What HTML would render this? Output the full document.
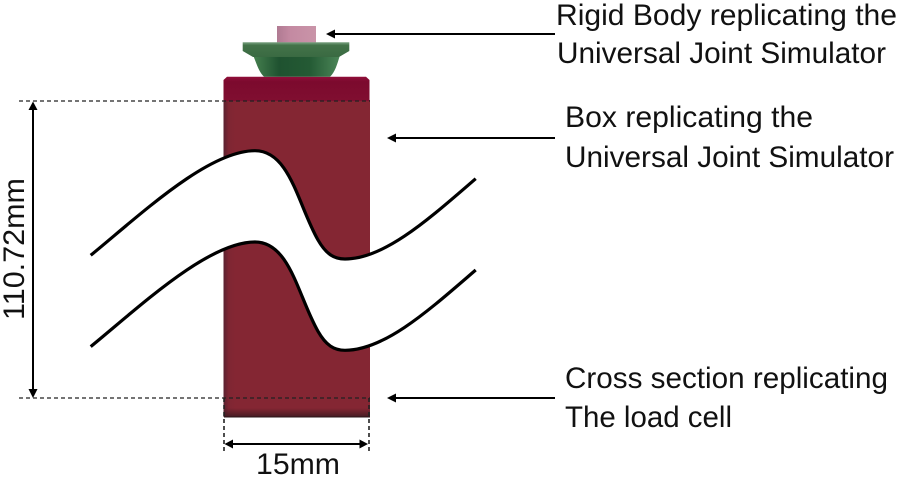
<!DOCTYPE html>
<html>
<head>
<meta charset="utf-8">
<style>
html,body{margin:0;padding:0;background:#fff;width:899px;height:478px;overflow:hidden}
svg{display:block}
text{font-family:"Liberation Sans",sans-serif;font-size:30px;fill:#111}
</style>
</head>
<body>
<svg width="899" height="478" viewBox="0 0 899 478" xmlns="http://www.w3.org/2000/svg">
<defs>
<linearGradient id="boxH" x1="0" x2="1" y1="0" y2="0">
<stop offset="0" stop-color="#5a2230"/>
<stop offset="0.035" stop-color="#7e2633"/>
<stop offset="0.08" stop-color="#842633"/>
<stop offset="1" stop-color="#842633"/>
</linearGradient>
<linearGradient id="boxV" x1="0" x2="0" y1="0" y2="1">
<stop offset="0" stop-color="#3a1a20" stop-opacity="0"/>
<stop offset="1" stop-color="#3a1a20" stop-opacity="0.85"/>
</linearGradient>
<linearGradient id="cap" x1="0" x2="0" y1="0" y2="1">
<stop offset="0" stop-color="#920f3a"/>
<stop offset="0.2" stop-color="#7c0a2e"/>
<stop offset="1" stop-color="#800e30"/>
</linearGradient>
<linearGradient id="pink" x1="0" x2="1" y1="0" y2="0">
<stop offset="0" stop-color="#b07a92"/>
<stop offset="0.35" stop-color="#c48aa2"/>
<stop offset="1" stop-color="#c994a8"/>
</linearGradient>
<linearGradient id="rim" x1="0" x2="0" y1="0" y2="1">
<stop offset="0" stop-color="#7aa382"/>
<stop offset="0.2" stop-color="#437349"/>
<stop offset="1" stop-color="#3a6a42"/>
</linearGradient>
<linearGradient id="bowl" x1="0" x2="1" y1="0" y2="0">
<stop offset="0" stop-color="#46804f"/>
<stop offset="0.3" stop-color="#1f5230"/>
<stop offset="0.65" stop-color="#245a34"/>
<stop offset="1" stop-color="#4c8658"/>
</linearGradient>
</defs>

<!-- box -->
<rect x="223.5" y="100" width="146.5" height="317" fill="url(#boxH)"/>
<rect x="223.500" y="408" width="146.500" height="9" fill="url(#boxV)"/>
<path d="M223.500 101 V80 L227 76.700 H366 L369.500 80 V101 Z" fill="url(#cap)"/>

<!-- top parts -->
<rect x="277" y="26" width="39" height="16.500" fill="url(#pink)"/>
<path d="M253 55 C257 65 259 72 264 76.700 H330 C335 72 337 65 340 55 Z" fill="url(#bowl)"/>
<path d="M242.700 42.300 H349.300 V51 L345 53.500 L339 57 H253 L247 53.500 L242.700 51 Z" fill="url(#rim)"/>

<!-- dashed lines -->
<g fill="none" stroke="#222" stroke-width="1.2" stroke-dasharray="4 3">
<line x1="19" y1="101" x2="370" y2="101"/>
<line x1="19" y1="398" x2="370" y2="398"/>
<line x1="224" y1="398" x2="224" y2="454" stroke-width="1.6"/>
<line x1="369" y1="398" x2="369" y2="454" stroke-width="1.6"/>
</g>
<line x1="224" y1="417" x2="370" y2="417" stroke="#2a1418" stroke-width="1"/>

<!-- white ribbon break -->
<path d="M90.700 255.300 C140 215 208 150.700 255 150.700 C290 150.700 298 205 318 240 C326 254 334 259 345 259 C385 259 430 218 475.700 178.700 V270 C430 309.300 385 350.300 345 350.300 C334 350.300 326 345.300 318 331.300 C298 296.300 290 242 255 242 C208 242 140 306.300 90.700 346.600 Z" fill="#fff"/>
<g fill="none" stroke="#000" stroke-width="3.200">
<path d="M90.700 255.300 C140 215 208 150.700 255 150.700 C290 150.700 298 205 318 240 C326 254 334 259 345 259 C385 259 430 218 475.700 178.700"/>
<path d="M90.700 346.600 C140 306.300 208 242 255 242 C290 242 298 296.300 318 331.300 C326 345.300 334 350.300 345 350.300 C385 350.300 430 309.300 475.700 270"/>
</g>

<!-- arrows -->
<g stroke="#000" stroke-width="2" fill="none">
<line x1="332" y1="34" x2="555" y2="34"/>
<line x1="396" y1="138" x2="555" y2="138"/>
<line x1="396" y1="398" x2="555" y2="398"/>
<line x1="33" y1="110" x2="33" y2="390"/>
<line x1="232" y1="444" x2="361" y2="444"/>
</g>
<g fill="#000">
<path d="M326 34 L335 29.500 V38.500 Z"/>
<path d="M387 138 L396 133.500 V142.500 Z"/>
<path d="M387 398 L396 393.500 V402.500 Z"/>
<path d="M33 101.500 L28.500 110 H37.500 Z"/>
<path d="M33 398 L28.500 389 H37.500 Z"/>
<path d="M224.500 444 L233 439.500 V448.500 Z"/>
<path d="M368 444 L359.500 439.500 V448.500 Z"/>
</g>

<!-- labels -->
<text x="556" y="25" textLength="341" lengthAdjust="spacingAndGlyphs">Rigid Body replicating the</text>
<text x="557" y="63" textLength="329" lengthAdjust="spacingAndGlyphs">Universal Joint Simulator</text>
<text x="565" y="127" textLength="248" lengthAdjust="spacingAndGlyphs">Box replicating the</text>
<text x="565" y="167" textLength="329" lengthAdjust="spacingAndGlyphs">Universal Joint Simulator</text>
<text x="565" y="388" textLength="323" lengthAdjust="spacingAndGlyphs">Cross section replicating</text>
<text x="565" y="427" textLength="167" lengthAdjust="spacingAndGlyphs">The load cell</text>
<text x="256" y="474" textLength="84" lengthAdjust="spacingAndGlyphs">15mm</text>
<text transform="translate(24 320) rotate(-90)" x="0" y="0" textLength="142" lengthAdjust="spacingAndGlyphs">110.72mm</text>
</svg>
</body>
</html>
